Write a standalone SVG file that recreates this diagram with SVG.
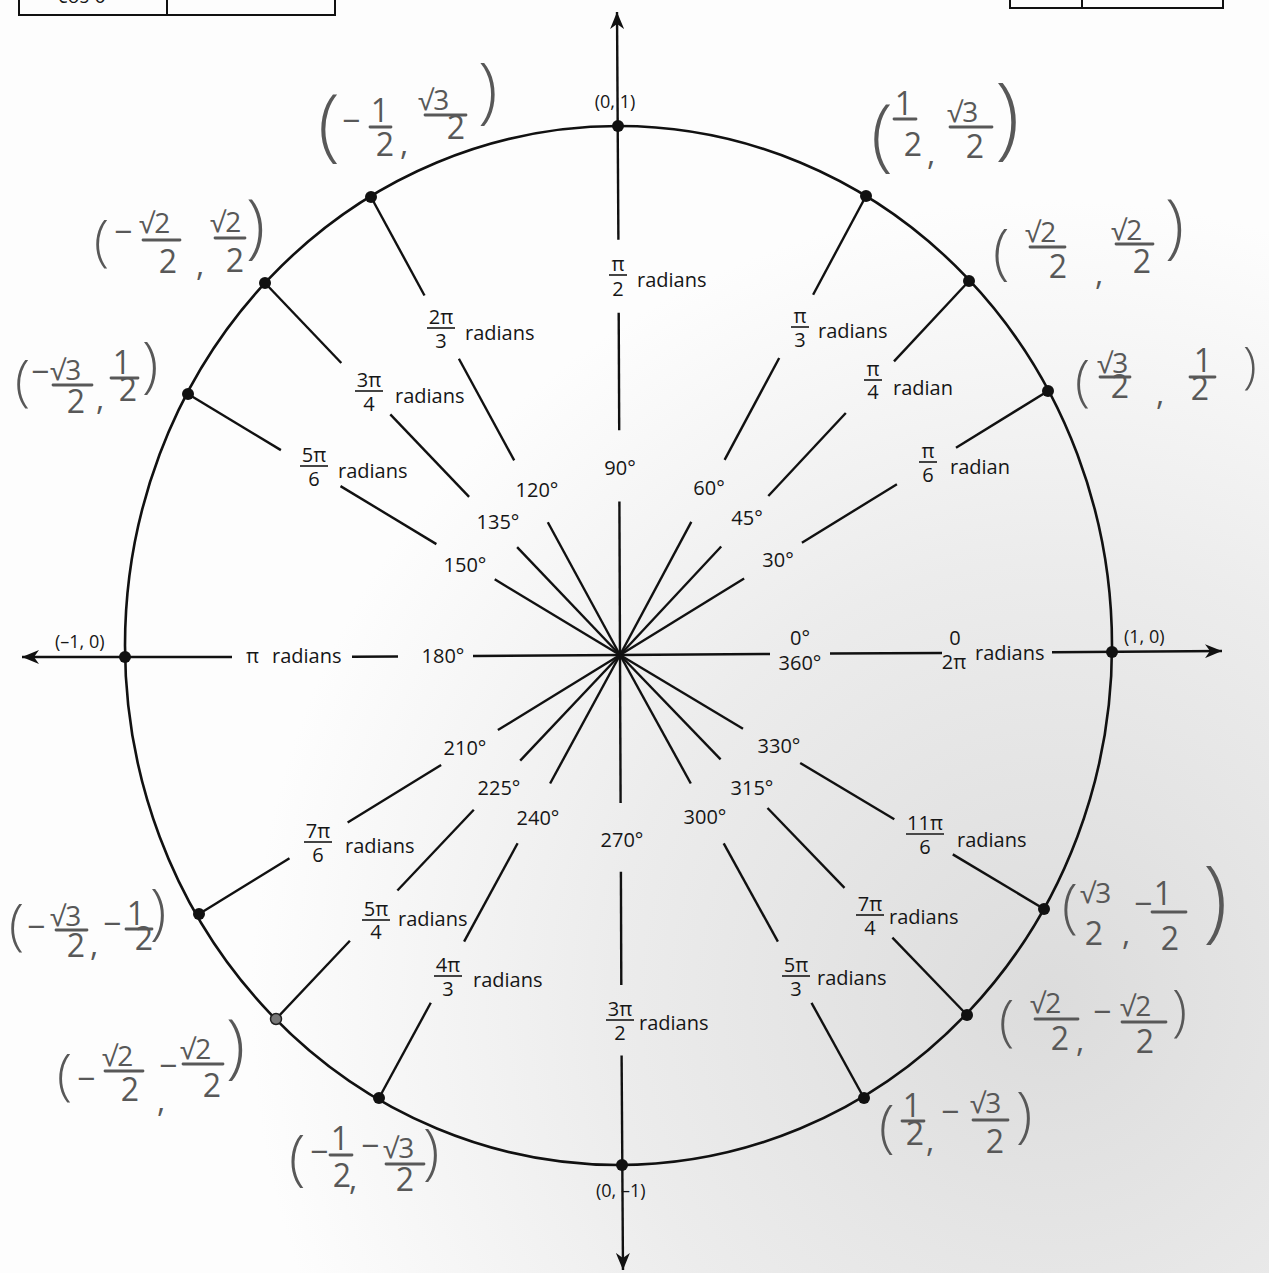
<svg xmlns="http://www.w3.org/2000/svg" width="1269" height="1273" viewBox="0 0 1269 1273">
<defs>
<radialGradient id="bg" cx="1050" cy="1000" r="800" gradientUnits="userSpaceOnUse">
<stop offset="0" stop-color="#dcdcdc"/>
<stop offset="0.55" stop-color="#ececec"/>
<stop offset="1" stop-color="#fdfdfd"/>
</radialGradient>
<marker id="arr" markerUnits="userSpaceOnUse" markerWidth="18" markerHeight="14" refX="17" refY="7" orient="auto">
<path d="M0,0 L17,7 L0,14 L5,7 Z" fill="#111"/>
</marker>
</defs>
<style>
.t{font-family:"Open Sans","Liberation Sans",sans-serif;font-size:20px;fill:#161616}
.c{font-family:"Open Sans","Liberation Sans",sans-serif;font-size:18px;fill:#161616}
.m{text-anchor:middle}
.fb{stroke:#161616;stroke-width:1.6}
.seg{stroke:#111;stroke-width:2.4;stroke-linecap:butt;fill:none}
.dot{fill:#111}
.h{font-family:"Open Sans","DejaVu Sans",sans-serif;font-weight:400;font-size:32px;fill:#585858}
.hs{font-family:"Open Sans","DejaVu Sans",sans-serif;font-weight:400;font-size:28px;fill:#585858}
.hp{font-family:"Open Sans","DejaVu Sans",sans-serif;font-weight:300;fill:#585858}
.hb{stroke:#585858;stroke-width:2.8;stroke-linecap:round}
</style>
<rect x="0" y="0" width="1269" height="1273" fill="url(#bg)"/>

<g id="tables">
<rect x="19" y="-10" width="316" height="25" fill="none" stroke="#111" stroke-width="2"/>
<line x1="167" y1="-10" x2="167" y2="15" stroke="#111" stroke-width="2"/>
<text class="t" x="58" y="3">cos θ</text>
<rect x="1010" y="-10" width="213" height="18" fill="none" stroke="#111" stroke-width="2"/>
<line x1="1082" y1="-10" x2="1082" y2="8" stroke="#111" stroke-width="2"/>
</g>

<g id="unit-circle">
<ellipse cx="618.5" cy="645.5" rx="493.5" ry="519.5" fill="none" stroke="#111" stroke-width="2.6"/>
</g>

<g id="connectors">
<line class="seg" x1="620" y1="655" x2="770" y2="654"/>
<line class="seg" x1="830" y1="653.5" x2="942" y2="653"/>
<line class="seg" x1="1052" y1="652.3" x2="1222" y2="651" marker-end="url(#arr)"/>
<line class="seg" x1="620" y1="655" x2="473" y2="656"/>
<line class="seg" x1="398" y1="656.5" x2="352" y2="656.7"/>
<line class="seg" x1="232" y1="657" x2="22" y2="657" marker-end="url(#arr)"/>
<line class="seg" x1="619.4" y1="501.6" x2="620" y2="655"/>
<line class="seg" x1="619.2" y1="430.2" x2="618.7" y2="312.7"/>
<line class="seg" x1="618.4" y1="239.7" x2="617" y2="12" marker-end="url(#arr)"/>
<line class="seg" x1="620" y1="655" x2="620.6" y2="802.9"/>
<line class="seg" x1="620.9" y1="871.8" x2="621.3" y2="985"/>
<line class="seg" x1="621.6" y1="1055.4" x2="623" y2="1270" marker-end="url(#arr)"/>
<line class="seg" x1="620" y1="655" x2="744.1" y2="578.4"/>
<line class="seg" x1="801.9" y1="542.8" x2="896.9" y2="484.2"/>
<line class="seg" x1="956" y1="447.8" x2="1048" y2="391"/>
<line class="seg" x1="620" y1="655" x2="721.2" y2="546.5"/>
<line class="seg" x1="768.3" y1="496" x2="845.8" y2="413"/>
<line class="seg" x1="894" y1="361.4" x2="969" y2="281"/>
<line class="seg" x1="620" y1="655" x2="691.3" y2="521.9"/>
<line class="seg" x1="724.6" y1="459.9" x2="779.2" y2="358"/>
<line class="seg" x1="813.1" y1="294.7" x2="866" y2="196"/>
<line class="seg" x1="620" y1="655" x2="547.8" y2="522.2"/>
<line class="seg" x1="514.2" y1="460.4" x2="458.9" y2="358.7"/>
<line class="seg" x1="424.5" y1="295.5" x2="371" y2="197"/>
<line class="seg" x1="620" y1="655" x2="517.1" y2="547.1"/>
<line class="seg" x1="469.1" y1="496.9" x2="390.3" y2="414.3"/>
<line class="seg" x1="341.3" y1="363" x2="265" y2="283"/>
<line class="seg" x1="620" y1="655" x2="494.7" y2="579.3"/>
<line class="seg" x1="436.4" y1="544.1" x2="340.5" y2="486.1"/>
<line class="seg" x1="280.9" y1="450.1" x2="188" y2="394"/>
<line class="seg" x1="620" y1="655" x2="497.9" y2="730.1"/>
<line class="seg" x1="441.1" y1="765.1" x2="347.6" y2="822.6"/>
<line class="seg" x1="289.5" y1="858.3" x2="199" y2="914"/>
<line class="seg" x1="620" y1="655" x2="520.2" y2="760.6"/>
<line class="seg" x1="473.8" y1="809.7" x2="397.4" y2="890.5"/>
<line class="seg" x1="349.9" y1="940.7" x2="276" y2="1019"/>
<line class="seg" x1="620" y1="655" x2="550.1" y2="783.5"/>
<line class="seg" x1="517.6" y1="843.3" x2="464.1" y2="941.6"/>
<line class="seg" x1="430.8" y1="1002.8" x2="379" y2="1098"/>
<line class="seg" x1="620" y1="655" x2="690.8" y2="783.5"/>
<line class="seg" x1="723.7" y1="843.3" x2="777.9" y2="941.6"/>
<line class="seg" x1="811.5" y1="1002.8" x2="864" y2="1098"/>
<line class="seg" x1="620" y1="655" x2="720.6" y2="759.4"/>
<line class="seg" x1="767.5" y1="808" x2="844.5" y2="887.9"/>
<line class="seg" x1="892.4" y1="937.6" x2="967" y2="1015"/>
<line class="seg" x1="620" y1="655" x2="743" y2="728.7"/>
<line class="seg" x1="800.2" y1="763" x2="894.3" y2="819.3"/>
<line class="seg" x1="952.8" y1="854.4" x2="1044" y2="909"/>
</g>

<g id="angle-labels">
<g id="a0"><text class="t m" x="800" y="645">0°</text><text class="t m" x="800" y="670">360°</text><text class="t m" x="955" y="645">0</text><text class="t m" x="954" y="669">2π</text><text class="t" x="975" y="660">radians</text></g>
<g id="a30"><text class="t m" x="778" y="567">30°</text><text class="t m" x="928" y="458">π</text><line class="fb" x1="919" y1="462" x2="937" y2="462"/><text class="t m" x="928" y="482">6</text><text class="t" x="950" y="474">radian</text></g>
<g id="a45"><text class="t m" x="747" y="525">45°</text><text class="t m" x="873" y="376">π</text><line class="fb" x1="864" y1="380" x2="882" y2="380"/><text class="t m" x="873" y="399">4</text><text class="t" x="893" y="395">radian</text></g>
<g id="a60"><text class="t m" x="709" y="495">60°</text><text class="t m" x="800" y="323">π</text><line class="fb" x1="791" y1="327" x2="809" y2="327"/><text class="t m" x="800" y="347">3</text><text class="t" x="818" y="338">radians</text></g>
<g id="a90"><text class="t m" x="620" y="475">90°</text><text class="t m" x="618" y="271">π</text><line class="fb" x1="609" y1="275" x2="627" y2="275"/><text class="t m" x="618" y="296">2</text><text class="t" x="637" y="287">radians</text></g>
<g id="a120"><text class="t m" x="537" y="497">120°</text><text class="t m" x="441" y="324">2π</text><line class="fb" x1="427" y1="328" x2="455" y2="328"/><text class="t m" x="441" y="348">3</text><text class="t" x="465" y="340">radians</text></g>
<g id="a135"><text class="t m" x="498" y="529">135°</text><text class="t m" x="369" y="387">3π</text><line class="fb" x1="355" y1="391" x2="383" y2="391"/><text class="t m" x="369" y="411">4</text><text class="t" x="395" y="403">radians</text></g>
<g id="a150"><text class="t m" x="465" y="572">150°</text><text class="t m" x="314" y="462">5π</text><line class="fb" x1="300" y1="466" x2="328" y2="466"/><text class="t m" x="314" y="486">6</text><text class="t" x="338" y="478">radians</text></g>
<g id="a180"><text class="t" x="246" y="663">π</text><text class="t" x="272" y="663">radians</text><text class="t m" x="443" y="663">180°</text></g>
<g id="a210"><text class="t m" x="465" y="755">210°</text><text class="t m" x="318" y="838">7π</text><line class="fb" x1="304" y1="842" x2="332" y2="842"/><text class="t m" x="318" y="862">6</text><text class="t" x="345" y="853">radians</text></g>
<g id="a225"><text class="t m" x="499" y="795">225°</text><text class="t m" x="376" y="916">5π</text><line class="fb" x1="362" y1="920" x2="390" y2="920"/><text class="t m" x="376" y="939">4</text><text class="t" x="398" y="926">radians</text></g>
<g id="a240"><text class="t m" x="538" y="825">240°</text><text class="t m" x="448" y="972">4π</text><line class="fb" x1="434" y1="976" x2="462" y2="976"/><text class="t m" x="448" y="996">3</text><text class="t" x="473" y="987">radians</text></g>
<g id="a270"><text class="t m" x="622" y="847">270°</text><text class="t m" x="620" y="1016">3π</text><line class="fb" x1="606" y1="1020" x2="634" y2="1020"/><text class="t m" x="620" y="1040">2</text><text class="t" x="639" y="1030">radians</text></g>
<g id="a300"><text class="t m" x="705" y="824">300°</text><text class="t m" x="796" y="972">5π</text><line class="fb" x1="782" y1="976" x2="810" y2="976"/><text class="t m" x="796" y="996">3</text><text class="t" x="817" y="985">radians</text></g>
<g id="a315"><text class="t m" x="752" y="795">315°</text><text class="t m" x="870" y="911">7π</text><line class="fb" x1="856" y1="915" x2="884" y2="915"/><text class="t m" x="870" y="935">4</text><text class="t" x="889" y="924">radians</text></g>
<g id="a330"><text class="t m" x="779" y="753">330°</text><text class="t m" x="925" y="830">11π</text><line class="fb" x1="906" y1="834" x2="944" y2="834"/><text class="t m" x="925" y="854">6</text><text class="t" x="957" y="847">radians</text></g>
</g>

<g id="p0"><circle class="dot" cx="1112" cy="652" r="6"/><text class="c" x="1124" y="643">(1, 0)</text></g>
<g id="p90"><circle class="dot" cx="618" cy="126" r="6"/><text class="c m" x="615" y="108">(0, 1)</text></g>
<g id="p180"><circle class="dot" cx="125" cy="657" r="6"/><text class="c" x="55" y="648">(–1, 0)</text></g>
<g id="p270"><circle class="dot" cx="622" cy="1165" r="6"/><text class="c" x="596" y="1197">(0, –1)</text></g>

<g id="p30"><circle class="dot" cx="1048" cy="391" r="6"/>
<text class="hp" x="1075" y="400" font-size="55">(</text>
<text class="hs" x="1097" y="373" font-size="24">√3</text><line class="hb" x1="1100" y1="377" x2="1130" y2="377"/><text class="h m" x="1120" y="398" font-size="24">2</text>
<text class="h" x="1156" y="405">,</text>
<text class="h m" x="1203" y="372" font-size="24">1</text><line class="hb" x1="1190" y1="377" x2="1215" y2="377"/><text class="h m" x="1200" y="400" font-size="28">2</text>
<text class="hp" x="1243" y="383" font-size="50">)</text></g>

<g id="p45"><circle class="dot" cx="969" cy="281" r="6"/>
<text class="hp" x="993" y="273" font-size="60">(</text>
<text class="hs" x="1025" y="242">√2</text><line class="hb" x1="1030" y1="247" x2="1065" y2="247"/><text class="h m" x="1058" y="278">2</text>
<text class="h" x="1095" y="285">,</text>
<text class="hs" x="1111" y="240">√2</text><line class="hb" x1="1116" y1="244" x2="1153" y2="244"/><text class="h m" x="1142" y="273">2</text>
<text class="hp" x="1165" y="250" font-size="70">)</text></g>

<g id="p60"><circle class="dot" cx="866" cy="196" r="6"/>
<text class="hp" x="871" y="161" font-size="80">(</text>
<text class="h m" x="904" y="115" font-size="26">1</text><line class="hb" x1="894" y1="119" x2="916" y2="119"/><text class="h m" x="913" y="156">2</text>
<text class="h" x="927" y="165">,</text>
<text class="hs" x="947" y="122">√3</text><line class="hb" x1="950" y1="127" x2="992" y2="127"/><text class="h m" x="975" y="158">2</text>
<text class="hp" x="995" y="148" font-size="90">)</text></g>

<g id="p120"><circle class="dot" cx="371" cy="197" r="6"/>
<text class="hp" x="318" y="151" font-size="80">(</text>
<text class="h" x="342" y="132">−</text>
<text class="h m" x="380" y="122" font-size="26">1</text><line class="hb" x1="370" y1="127" x2="391" y2="127"/><text class="h m" x="385" y="156">2</text>
<text class="h" x="400" y="155">,</text>
<text class="hs" x="418" y="110">√3</text><line class="hb" x1="425" y1="115" x2="466" y2="115"/><text class="h m" x="456" y="139">2</text>
<text class="hp" x="478" y="115" font-size="72">)</text></g>

<g id="p135"><circle class="dot" cx="265" cy="283" r="6"/>
<text class="hp" x="94" y="260" font-size="55">(</text>
<text class="h" x="114" y="243">−</text>
<text class="hs" x="139" y="233">√2</text><line class="hb" x1="143" y1="240" x2="180" y2="240"/><text class="h m" x="168" y="273">2</text>
<text class="h" x="196" y="276">,</text>
<text class="hs" x="210" y="232" font-size="26">√2</text><line class="hb" x1="215" y1="238" x2="245" y2="238"/><text class="h m" x="235" y="272">2</text>
<text class="hp" x="246" y="250" font-size="70">)</text></g>

<g id="p150"><circle class="dot" cx="188" cy="394" r="6"/>
<text class="hp" x="15" y="400" font-size="55">(</text>
<text class="h" x="31" y="383">−</text>
<text class="hs" x="50" y="380">√3</text><line class="hb" x1="53" y1="385" x2="92" y2="385"/><text class="h m" x="76" y="413">2</text>
<text class="h" x="96" y="410">,</text>
<text class="h m" x="122" y="374" font-size="26">1</text><line class="hb" x1="111" y1="378" x2="138" y2="378"/><text class="h m" x="128" y="401" font-size="28">2</text>
<text class="hp" x="142" y="386" font-size="60">)</text></g>

<g id="p210"><circle class="dot" cx="199" cy="914" r="6"/>
<text class="hp" x="9" y="944" font-size="55">(</text>
<text class="h" x="27" y="938">−</text>
<text class="hs" x="50" y="926" font-size="26">√3</text><line class="hb" x1="56" y1="930" x2="87" y2="930"/><text class="h m" x="76" y="957" font-size="28">2</text>
<text class="h" x="90" y="956">,</text>
<text class="h" x="103" y="935">−</text>
<text class="h m" x="136" y="925" font-size="26">1</text><line class="hb" x1="126" y1="929" x2="152" y2="929"/><text class="h m" x="144" y="950" font-size="26">2</text>
<text class="hp" x="150" y="933" font-size="60">)</text></g>

<g id="p225"><circle cx="276" cy="1019" r="5.5" fill="#777" stroke="#222" stroke-width="1.5"/>
<text class="hp" x="57" y="1094" font-size="55">(</text>
<text class="h" x="77" y="1090">−</text>
<text class="hs" x="102" y="1066">√2</text><line class="hb" x1="105" y1="1071" x2="143" y2="1071"/><text class="h m" x="130" y="1101" font-size="28">2</text>
<text class="h" x="157" y="1112">,</text>
<text class="h" x="159" y="1077">−</text>
<text class="hs" x="180" y="1059">√2</text><line class="hb" x1="183" y1="1064" x2="223" y2="1064"/><text class="h m" x="212" y="1097">2</text>
<text class="hp" x="226" y="1070" font-size="70">)</text></g>

<g id="p240"><circle class="dot" cx="379" cy="1098" r="6"/>
<text class="hp" x="289" y="1179" font-size="60">(</text>
<text class="h" x="310" y="1163">−</text>
<text class="h m" x="340" y="1150" font-size="26">1</text><line class="hb" x1="330" y1="1155" x2="352" y2="1155"/><text class="h m" x="342" y="1187">2</text>
<text class="h" x="349" y="1190">,</text>
<text class="h" x="361" y="1157">−</text>
<text class="hs" x="383" y="1158">√3</text><line class="hb" x1="386" y1="1164" x2="424" y2="1164"/><text class="h m" x="405" y="1191" font-size="28">2</text>
<text class="hp" x="423" y="1173" font-size="60">)</text></g>

<g id="p300"><circle class="dot" cx="864" cy="1098" r="6"/>
<text class="hp" x="879" y="1146" font-size="57">(</text>
<text class="h m" x="912" y="1117" font-size="26">1</text><line class="hb" x1="902" y1="1121" x2="924" y2="1121"/><text class="h m" x="915" y="1145" font-size="28">2</text>
<text class="h" x="926" y="1152">,</text>
<text class="h" x="941" y="1123">−</text>
<text class="hs" x="970" y="1113" font-size="26">√3</text><line class="hb" x1="973" y1="1120" x2="1008" y2="1120"/><text class="h m" x="995" y="1153">2</text>
<text class="hp" x="1016" y="1136" font-size="60">)</text></g>

<g id="p315"><circle class="dot" cx="967" cy="1015" r="6"/>
<text class="hp" x="999" y="1040" font-size="56">(</text>
<text class="hs" x="1030" y="1013" font-size="30">√2</text><line class="hb" x1="1035" y1="1019" x2="1078" y2="1019"/><text class="h m" x="1060" y="1050">2</text>
<text class="h" x="1076" y="1052">,</text>
<text class="h" x="1093" y="1023">−</text>
<text class="hs" x="1120" y="1016" font-size="30">√2</text><line class="hb" x1="1122" y1="1022" x2="1166" y2="1022"/><text class="h m" x="1145" y="1053">2</text>
<text class="hp" x="1172" y="1030" font-size="55">)</text></g>

<g id="p330"><circle class="dot" cx="1044" cy="909" r="6"/>
<text class="hp" x="1062" y="926" font-size="58">(</text>
<text class="hs" x="1080" y="903" font-size="26">√3</text><text class="h m" x="1094" y="945" font-size="28">2</text>
<text class="h" x="1122" y="945">,</text>
<text class="h" x="1134" y="915">−</text>
<text class="h m" x="1163" y="905" font-size="28">1</text><line class="hb" x1="1152" y1="912" x2="1186" y2="912"/><text class="h m" x="1170" y="950">2</text>
<text class="hp" x="1203" y="931" font-size="90">)</text></g>
</svg>
